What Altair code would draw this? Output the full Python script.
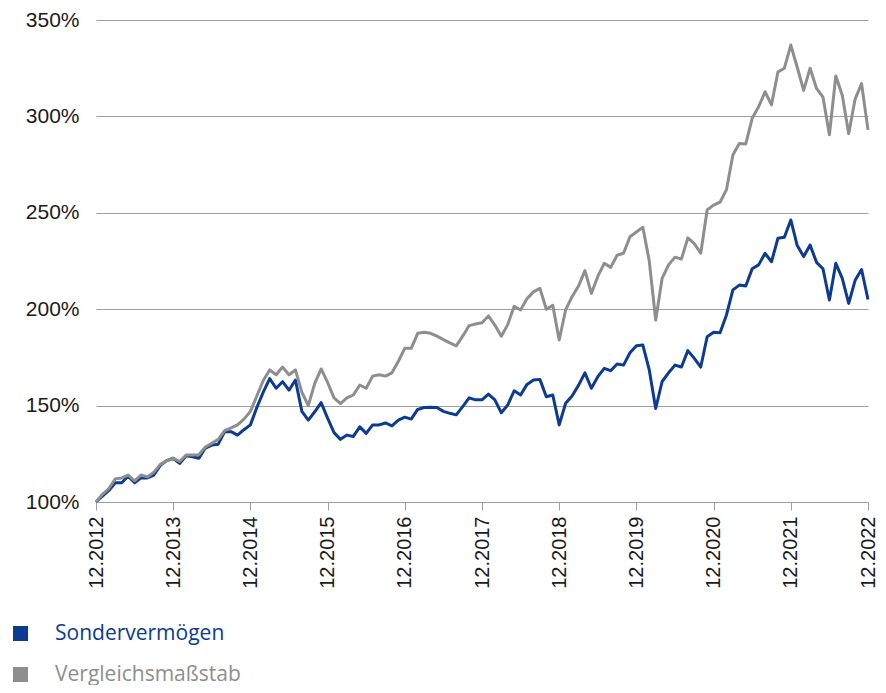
import altair as alt
import pandas as pd

# Monthly index values (12.2012 = 100%)
fund = [100, 103, 106, 110, 110, 113.5, 110, 112.5, 112.5, 114, 119, 121.5,
        122.7, 120, 124, 123.5, 122.7, 128, 129.5, 130, 136.5, 136.5, 134.7, 137.5,
        140, 149, 157, 164, 159, 162.4, 158, 163.3, 147, 142.5, 146.8, 151.5,
        143.5, 136, 132.5, 134.7, 134, 139, 135.6, 140, 140, 141, 139.5, 142.5,
        144, 143, 148, 149, 149.2, 149, 147, 146, 145.2, 149.5, 154, 153,
        153, 156, 153, 146.3, 150.3, 157.7, 155.5, 161, 163.3, 163.6, 154.6, 155.5,
        140, 151.2, 155, 160.5, 167, 159, 165, 169.3, 168.1, 171.6, 171, 177.4,
        181, 181.4, 168.5, 148.5, 162.5, 167, 171, 170, 178.5, 174.5, 170, 185.7,
        188, 187.8, 197, 210, 212.5, 212, 221, 223, 229, 224.6, 236.8, 237.3,
        246.3, 233, 227.3, 233.3, 224.3, 221, 204.8, 223.8, 216, 203, 215, 220.6,
        205]

benchmark = [100, 104, 107, 112, 112.5, 114, 111, 114, 113, 115.5, 119.5, 121.5,
             122.7, 121, 124.4, 124.4, 124.5, 128.5, 130.5, 132.5, 137, 138.5, 140, 143,
             147, 155, 163, 168.5, 166, 170, 166, 168.5, 157, 150, 161.5, 169,
             162, 154, 151, 154, 155.5, 160.7, 159, 165.3, 166, 165.3, 167, 173,
             179.7, 179.7, 187.5, 188, 187.5, 186, 184.2, 182.5, 181, 186, 191.5, 192.3,
             193, 196.5, 191.8, 186, 192, 201.5, 199.6, 205.5, 209, 210.8, 200, 202,
             184, 199.6, 206.5, 212, 220, 208.2, 217, 223.8, 221.7, 228, 229, 237.6,
             240, 242.5, 225, 194.4, 216, 223, 227, 226, 237, 234, 229, 251.5,
             254, 255.5, 262, 280, 286, 285.7, 299, 305, 312.8, 306, 323, 325,
             337, 325.5, 313.5, 325, 314.5, 310, 290.5, 321, 311, 291, 309, 317,
             293]

series_names = ["Sondervermögen", "Vergleichsmaßstab"]
series_colors = ["#0b3b92", "#8e8e8e"]

# Month labels 12.2012 ... 12.2022
months = []
for i in range(len(fund)):
    m = (11 + i) % 12 + 1
    y = 2012 + (11 + i) // 12
    months.append(f"{m:02d}.{y}")
tick_labels = [f"12.{y}" for y in range(2012, 2023)]
y_ticks = [100, 150, 200, 250, 300, 350]

df = pd.DataFrame({
    "Monat": months * 2,
    "Wert": fund + benchmark,
    "Reihe": [series_names[0]] * len(fund) + [series_names[1]] * len(benchmark),
})

color = alt.Color(
    "Reihe:N",
    scale=alt.Scale(domain=series_names, range=series_colors),
    legend=alt.Legend(
        title=None,
        orient="none",
        legendX=-86,
        legendY=603,
        direction="vertical",
        symbolType="square",
        symbolSize=56,
        symbolStrokeWidth=7.5,
        symbolOpacity=1,
        labelFont="Open Sans",
        labelFontSize=21,
        labelLimit=400,
        labelOffset=24,
        rowPadding=2,
        padding=0,
        labelColor={"expr": "datum.label === 'Sondervermögen' ? '#0b3b92' : '#8e8e8e'"},
    ),
)

x = alt.X(
    "Monat:N",
    sort=months,
    scale=alt.Scale(type="point", padding=0),
    axis=alt.Axis(
        title=None,
        values=tick_labels,
        labelAngle=-90,
        labelAlign="right",
        labelBaseline="middle",
        labelFont="Liberation Sans",
        labelFontSize=20,
        labelColor="#1a1a1a",
        labelPadding=6,
        tickSize=8,
        tickColor="#a0a0a0",
        domainColor="#a0a0a0",
        grid=False,
    ),
)

y = alt.Y(
    "Wert:Q",
    scale=alt.Scale(domain=[100, 350], nice=False, zero=False),
    axis=alt.Axis(
        title=None,
        values=y_ticks,
        labelExpr="datum.value + '%'",
        labelFont="Liberation Sans",
        labelFontSize=21,
        labelColor="#1a1a1a",
        labelPadding=17,
        ticks=False,
        domain=False,
        grid=True,
        gridColor="#a0a0a0",
        gridWidth=1,
    ),
)

base = alt.Chart(df).mark_line(strokeWidth=3, strokeJoin="round").encode(
    x=x, y=y, color=color
)

blue = base.transform_filter(alt.datum.Reihe == series_names[0])
gray = base.transform_filter(alt.datum.Reihe == series_names[1])

chart = alt.layer(blue, gray).properties(
    width=772,
    height=482,
    autosize=alt.AutoSizeParams(type="none"),
    padding={"left": 88, "top": 12, "right": 10, "bottom": 183},
).configure_view(stroke=None)

chart.save("out.html", embed_options={"renderer": "svg", "actions": False})
